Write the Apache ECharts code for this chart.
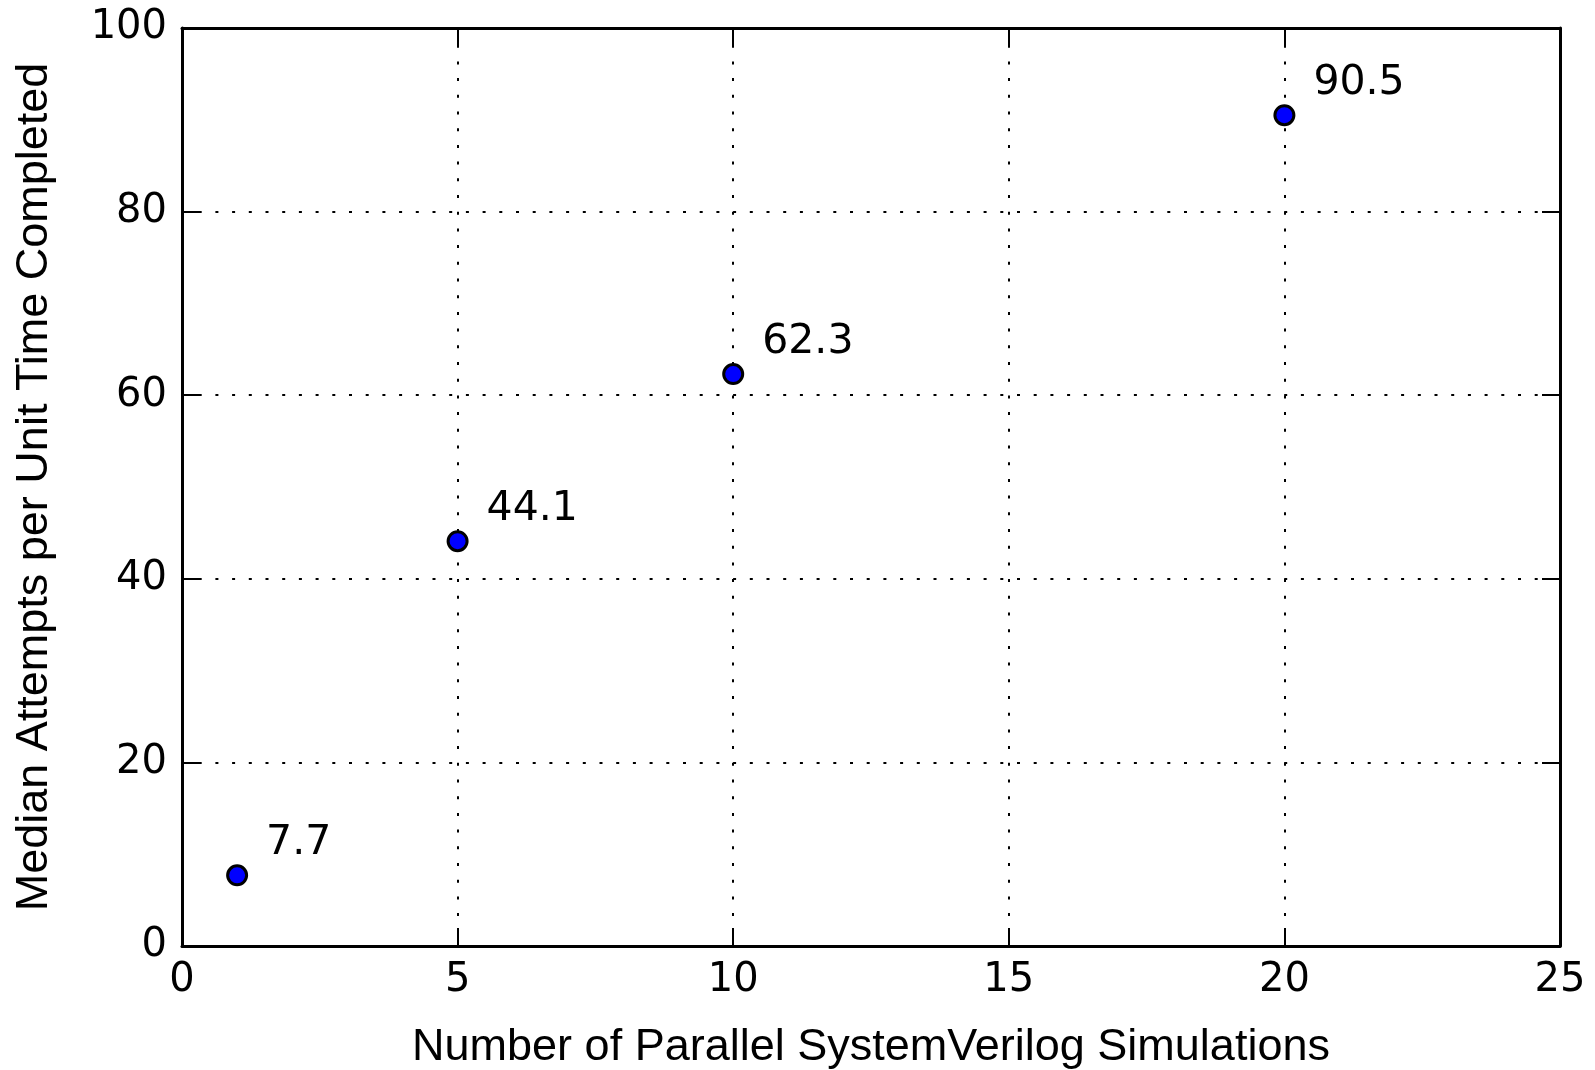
<!DOCTYPE html>
<html>
<head>
<meta charset="utf-8">
<script src="https://cdn.jsdelivr.net/npm/echarts@6/dist/echarts.min.js"></script>
<style>
html,body{margin:0;padding:0;background:#fff;}
#chart{width:1595px;height:1070px;}
</style>
</head>
<body>
<div id="chart"></div>
<script>
const simulations = [1, 5, 10, 20];
const attempts = [7.7, 44.1, 62.3, 90.5];
const xTicks = [0, 5, 10, 15, 20, 25];
const yTicks = [0, 20, 40, 60, 80, 100];
const xTitle = 'Number of Parallel SystemVerilog Simulations';
const yTitle = 'Median Attempts per Unit Time Completed';

const points = simulations.map((x, i) => [x, attempts[i]]);

const tickFont = {fontFamily: 'DejaVu Sans', fontSize: 40, color: '#000'};
const gridLine = {show: true, lineStyle: {color: '#000', width: 2, type: [3, 13.7]}};
const axisLine = {show: true, onZero: false, lineStyle: {color: '#000', width: 3}};
const axisTick = {show: true, inside: true, length: 18, lineStyle: {color: '#000', width: 2}};

const chart = echarts.init(document.getElementById('chart'), null, {renderer: 'canvas'});
chart.setOption({
  animation: false,
  backgroundColor: '#fff',
  grid: {left: 182, right: 35, top: 28, bottom: 124, containLabel: false, outerBoundsMode: 'none'},
  xAxis: [{
    type: 'value', position: 'bottom', min: xTicks[0], max: xTicks[xTicks.length-1], interval: 5,
    axisLine, axisTick, splitLine: gridLine,
    axisLabel: Object.assign({margin: 15}, tickFont),
    name: xTitle, nameLocation: 'middle', nameGap: 79,
    nameTextStyle: {fontFamily: 'Liberation Sans', fontSize: 45, color: '#000'}
  }, {
    type: 'value', position: 'top', min: xTicks[0], max: xTicks[xTicks.length-1], interval: 5,
    axisLine, axisTick, splitLine: {show: false}, axisLabel: {show: false}
  }],
  yAxis: [{
    type: 'value', position: 'left', min: yTicks[0], max: yTicks[yTicks.length-1], interval: 20,
    axisLine, axisTick, splitLine: gridLine,
    axisLabel: Object.assign({margin: 15}, tickFont),
    name: yTitle, nameLocation: 'middle', nameGap: 125,
    nameTextStyle: {fontFamily: 'Liberation Sans', fontSize: 45, color: '#000'}
  }, {
    type: 'value', position: 'right', min: yTicks[0], max: yTicks[yTicks.length-1], interval: 20,
    axisLine, axisTick, splitLine: {show: false}, axisLabel: {show: false}
  }],
  series: [{
    type: 'scatter',
    data: points,
    symbol: 'circle',
    symbolSize: 19,
    itemStyle: {color: '#0000ff', borderColor: '#000', borderWidth: 3, opacity: 1},
    label: {
      show: true,
      position: 'inside',
      align: 'left',
      verticalAlign: 'middle',
      offset: [29, -32],
      formatter: p => p.value[1].toFixed(1),
      fontFamily: 'DejaVu Sans', fontSize: 41, color: '#000'
    },
    z: 10
  }]
});
</script>
</body>
</html>
